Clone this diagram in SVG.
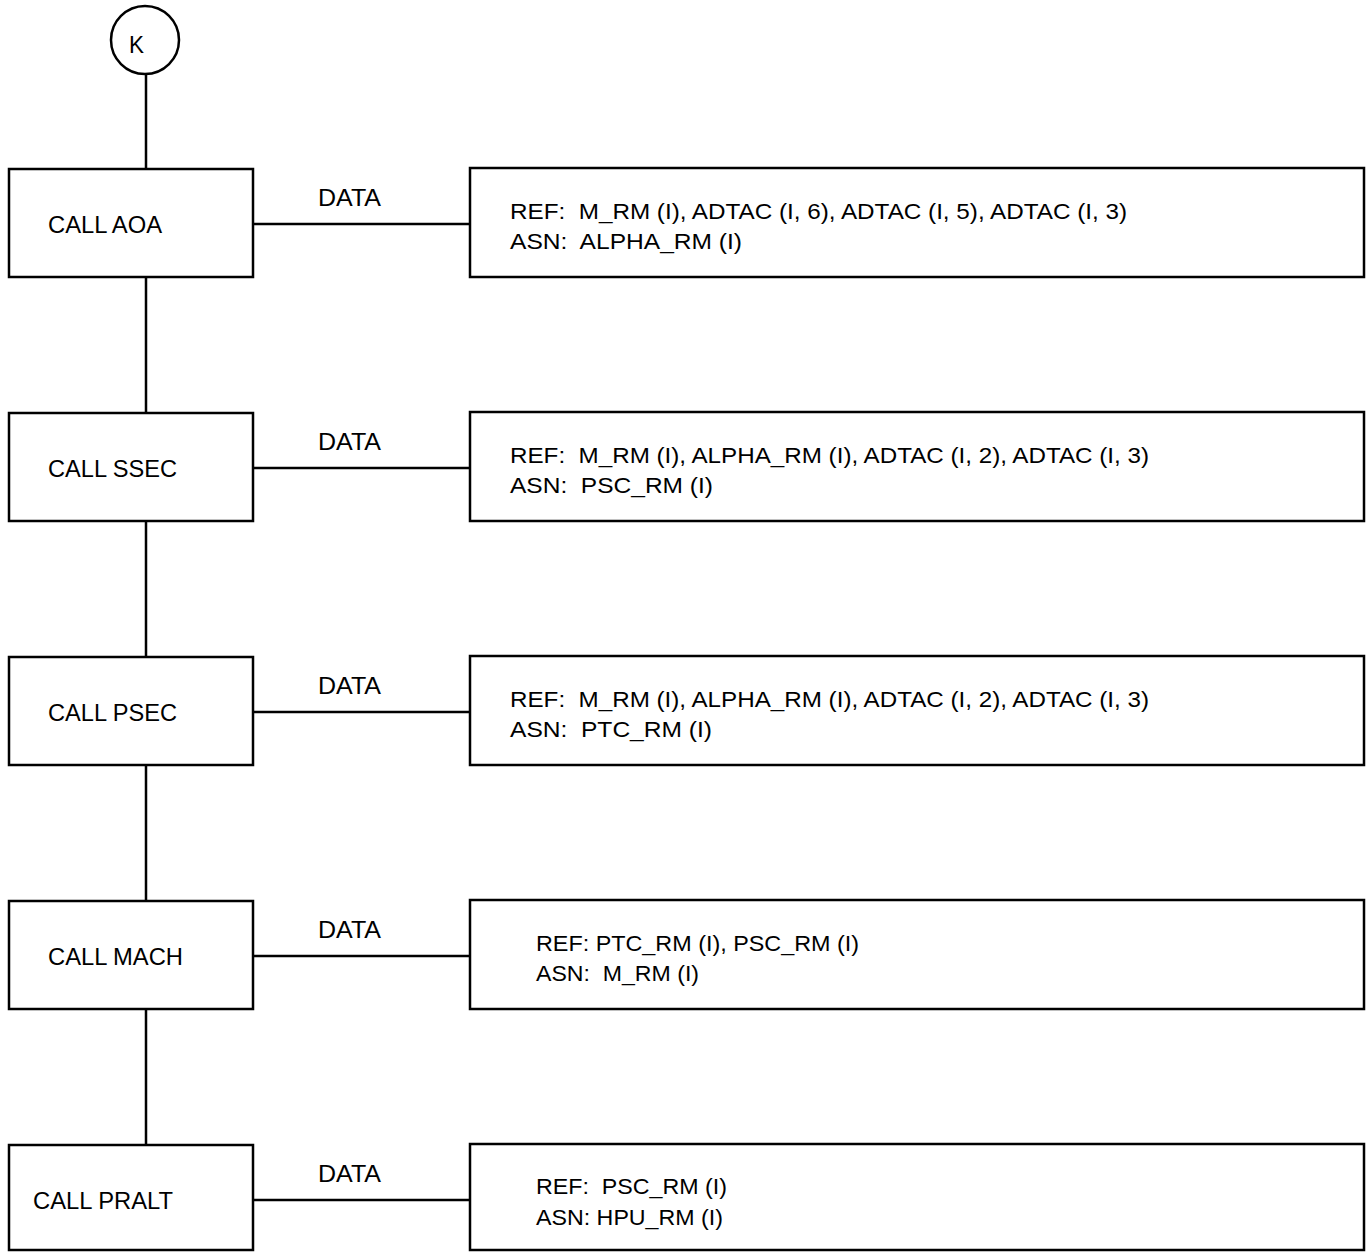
<svg xmlns="http://www.w3.org/2000/svg" width="1366" height="1253" viewBox="0 0 1366 1253">
<style>
.b{fill:#fff;stroke:#000;stroke-width:2.5}
.c{stroke:#000;stroke-width:2.5;fill:none}
text{font-family:"Liberation Sans",Arial,sans-serif;fill:#000;white-space:pre}
.l{font-size:24px}
.d{font-size:22px}
</style>
<rect width="1366" height="1253" fill="#fff"/>
<g id="connectors">
<path class="c" d="M146 74V169M146 277V413M146 521V657M146 765V901M146 1009V1145"/>
<path class="c" d="M253 224H470M253 468H470M253 712H470M253 956H470M253 1200H470"/>
</g>
<g id="K"><circle class="b" cx="145" cy="40" r="34"/><text class="l" x="129" y="53" textLength="15" lengthAdjust="spacingAndGlyphs">K</text></g>
<g id="aoa"><rect class="b" x="9" y="169" width="244" height="108"/><text class="l" x="48" y="233" textLength="114" lengthAdjust="spacingAndGlyphs">CALL AOA</text></g>
<g id="data1"><text class="l" x="318" y="206" textLength="63" lengthAdjust="spacingAndGlyphs">DATA</text><rect class="b" x="470" y="168" width="894" height="109"/><text class="d" x="510" y="219" textLength="617" lengthAdjust="spacingAndGlyphs" xml:space="preserve">REF:  M_RM (I), ADTAC (I, 6), ADTAC (I, 5), ADTAC (I, 3)</text><text class="d" x="510" y="249" textLength="232" lengthAdjust="spacingAndGlyphs" xml:space="preserve">ASN:  ALPHA_RM (I)</text></g>
<g id="ssec"><rect class="b" x="9" y="413" width="244" height="108"/><text class="l" x="48" y="477" textLength="129" lengthAdjust="spacingAndGlyphs">CALL SSEC</text></g>
<g id="data2"><text class="l" x="318" y="450" textLength="63" lengthAdjust="spacingAndGlyphs">DATA</text><rect class="b" x="470" y="412" width="894" height="109"/><text class="d" x="510" y="463" textLength="639" lengthAdjust="spacingAndGlyphs" xml:space="preserve">REF:  M_RM (I), ALPHA_RM (I), ADTAC (I, 2), ADTAC (I, 3)</text><text class="d" x="510" y="493" textLength="203" lengthAdjust="spacingAndGlyphs" xml:space="preserve">ASN:  PSC_RM (I)</text></g>
<g id="psec"><rect class="b" x="9" y="657" width="244" height="108"/><text class="l" x="48" y="721" textLength="129" lengthAdjust="spacingAndGlyphs">CALL PSEC</text></g>
<g id="data3"><text class="l" x="318" y="694" textLength="63" lengthAdjust="spacingAndGlyphs">DATA</text><rect class="b" x="470" y="656" width="894" height="109"/><text class="d" x="510" y="707" textLength="639" lengthAdjust="spacingAndGlyphs" xml:space="preserve">REF:  M_RM (I), ALPHA_RM (I), ADTAC (I, 2), ADTAC (I, 3)</text><text class="d" x="510" y="737" textLength="202" lengthAdjust="spacingAndGlyphs" xml:space="preserve">ASN:  PTC_RM (I)</text></g>
<g id="mach"><rect class="b" x="9" y="901" width="244" height="108"/><text class="l" x="48" y="965" textLength="135" lengthAdjust="spacingAndGlyphs">CALL MACH</text></g>
<g id="data4"><text class="l" x="318" y="938" textLength="63" lengthAdjust="spacingAndGlyphs">DATA</text><rect class="b" x="470" y="900" width="894" height="109"/><text class="d" x="536" y="951" textLength="323" lengthAdjust="spacingAndGlyphs">REF: PTC_RM (I), PSC_RM (I)</text><text class="d" x="536" y="981" textLength="163" lengthAdjust="spacingAndGlyphs" xml:space="preserve">ASN:  M_RM (I)</text></g>
<g id="pralt"><rect class="b" x="9" y="1145" width="244" height="105"/><text class="l" x="33" y="1209" textLength="140" lengthAdjust="spacingAndGlyphs">CALL PRALT</text></g>
<g id="data5"><text class="l" x="318" y="1182" textLength="63" lengthAdjust="spacingAndGlyphs">DATA</text><rect class="b" x="470" y="1144" width="894" height="106"/><text class="d" x="536" y="1194" textLength="191" lengthAdjust="spacingAndGlyphs" xml:space="preserve">REF:  PSC_RM (I)</text><text class="d" x="536" y="1225" textLength="187" lengthAdjust="spacingAndGlyphs">ASN: HPU_RM (I)</text></g>
</svg>
